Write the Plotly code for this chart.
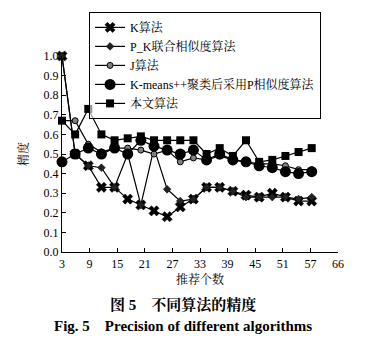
import plotly.graph_objects as go

x_vals = [3, 6, 9, 12, 15, 18, 21, 24, 27, 30, 33, 36, 39, 42, 45, 48, 51, 54, 57, 60]

k_alg = [1.0, 0.50, 0.44, 0.33, 0.33, 0.27, 0.24, 0.21, 0.18, 0.23, 0.27, 0.33, 0.33, 0.31, 0.29, 0.28, 0.30, 0.28, 0.26, 0.26]
pk_alg = [1.0, 0.50, 0.44, 0.43, 0.33, 0.50, 0.24, 0.53, 0.32, 0.26, 0.27, 0.33, 0.33, 0.31, 0.28, 0.28, 0.28, 0.28, 0.27, 0.28]
j_alg = [0.67, 0.67, 0.55, 0.51, 0.53, 0.53, 0.52, 0.50, 0.52, 0.46, 0.48, 0.47, 0.49, 0.47, 0.46, 0.45, 0.45, 0.44, 0.42, 0.42]
kmpp_alg = [0.46, 0.50, 0.53, 0.50, 0.53, 0.50, 0.57, 0.54, 0.52, 0.50, 0.52, 0.47, 0.50, 0.47, 0.46, 0.44, 0.43, 0.41, 0.40, 0.41]
ours_alg = [0.67, 0.60, 0.73, 0.60, 0.57, 0.58, 0.59, 0.57, 0.57, 0.57, 0.57, 0.50, 0.53, 0.49, 0.57, 0.46, 0.47, 0.49, 0.51, 0.53]

names = ["K算法", "P_K联合相似度算法", "J算法", "K-means++聚类后采用P相似度算法", "本文算法"]

tick_pos = [3 + 6.3 * i for i in range(11)]
tick_text = ["3", "9", "15", "21", "27", "33", "39", "45", "51", "57", "66"]
y_ticks = [round(0.1 * i, 1) for i in range(11)]

SERIF = "Liberation Serif, Times New Roman, Noto Serif CJK SC, Noto Sans CJK SC, serif"

fig = go.Figure()
styles = [
    (k_alg, dict(symbol="x", size=9, color="black", line=dict(color="black", width=0.5))),
    (pk_alg, dict(symbol="diamond", size=6, color="#222222", line=dict(color="black", width=0.5))),
    (j_alg, dict(symbol="circle", size=6, color="#808080", line=dict(color="black", width=1))),
    (kmpp_alg, dict(symbol="circle", size=11, color="black")),
    (ours_alg, dict(symbol="square", size=8, color="black")),
]
for (vals, mk), nm in zip(styles, names):
    fig.add_trace(go.Scatter(
        x=x_vals, y=vals, name=nm, mode="lines+markers",
        line=dict(color="black", width=1.2), marker=mk, cliponaxis=False,
    ))

fig.update_layout(
    width=391, height=349,
    margin=dict(l=62, r=53, t=50, b=97),
    paper_bgcolor="white", plot_bgcolor="white",
    font=dict(family=SERIF, size=12, color="black"),
    showlegend=True,
    legend=dict(
        x=0.098, y=1.225, xanchor="left", yanchor="top",
        bordercolor="black", borderwidth=1, bgcolor="rgba(255,255,255,0.6)",
        font=dict(family=SERIF, size=12, color="black"),
        tracegroupgap=0, itemwidth=30,
    ),
)
fig.update_xaxes(
    range=[3, 66], tickmode="array", tickvals=tick_pos, ticktext=tick_text,
    showline=True, linecolor="black", linewidth=1.2, showgrid=False, zeroline=False,
    ticks="inside", ticklen=4, tickcolor="black",
    title=dict(text="推荐个数", font=dict(family=SERIF, size=12), standoff=6),
)
fig.update_yaxes(
    range=[0, 1.0], tickmode="array", tickvals=y_ticks,
    ticktext=[f"{v:.1f}" for v in y_ticks],
    showline=True, linecolor="black", linewidth=1.2, showgrid=False, zeroline=False,
    ticks="inside", ticklen=4, tickcolor="black",
    title=dict(text="精度", font=dict(family=SERIF, size=12), standoff=12),
)
fig.add_annotation(
    text="<b>图 5    不同算法的精度</b>", xref="paper", yref="paper",
    x=0.44, y=-0.272, xanchor="center", yanchor="middle", showarrow=False,
    font=dict(family=SERIF, size=15, color="black"),
)
fig.add_annotation(
    text="<b>Fig. 5    Precision of different algorithms</b>", xref="paper", yref="paper",
    x=0.44, y=-0.376, xanchor="center", yanchor="middle", showarrow=False,
    font=dict(family=SERIF, size=15, color="black"),
)
fig.write_html("out.html")
